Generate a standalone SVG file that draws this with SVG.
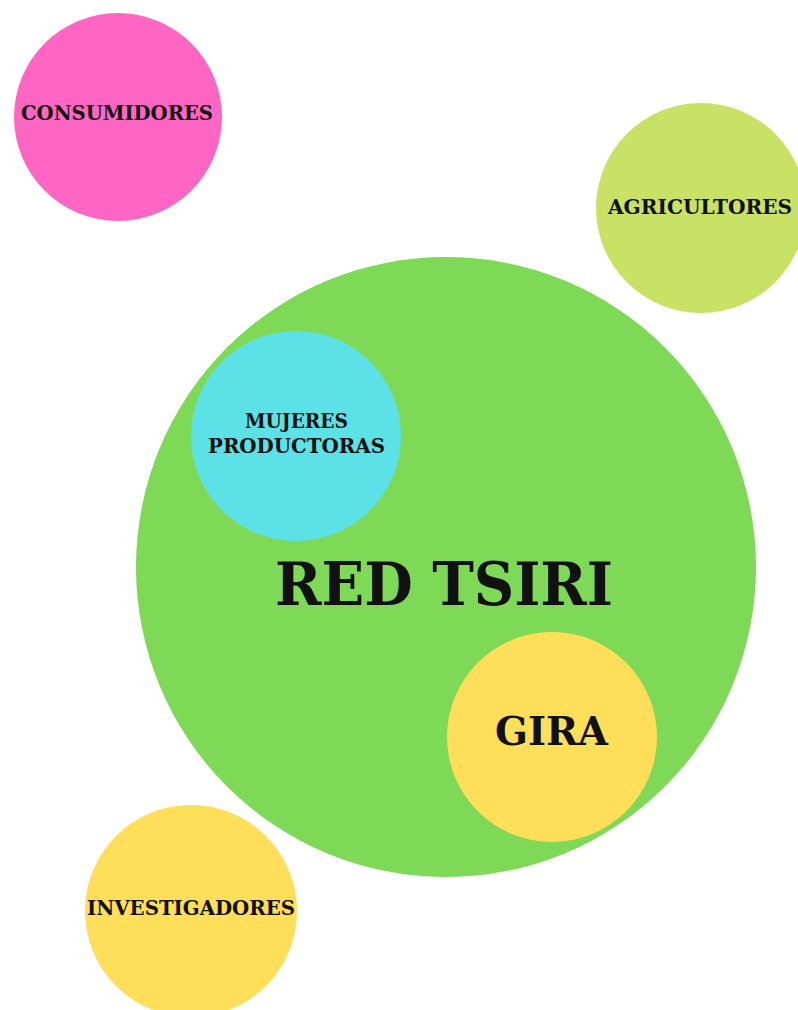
<svg xmlns="http://www.w3.org/2000/svg" width="798" height="1010" viewBox="0 0 798 1010">
<style>
.t{font-family:"DejaVu Serif","Liberation Serif",serif;font-weight:bold;fill:#111;text-anchor:middle}
</style>
<rect width="798" height="1010" fill="#ffffff"/>
<g id="consumidores">
<circle cx="118" cy="117" r="104" fill="#FF66C4"/>
<text class="t" x="117" y="120" font-size="20" textLength="192" lengthAdjust="spacingAndGlyphs">CONSUMIDORES</text>
</g>
<g id="agricultores">
<circle cx="701" cy="208" r="105" fill="#C9E265"/>
<text class="t" x="700" y="214" font-size="20" textLength="184" lengthAdjust="spacingAndGlyphs">AGRICULTORES</text>
</g>
<g id="red-tsiri">
<circle cx="446" cy="567" r="310" fill="#7ED957"/>
<text class="t" x="444" y="605" font-size="60" textLength="338" lengthAdjust="spacingAndGlyphs">RED TSIRI</text>
</g>
<g id="mujeres-productoras">
<circle cx="296" cy="436" r="105" fill="#5CE1E6"/>
<text class="t" x="296.5" y="428" font-size="21" textLength="103" lengthAdjust="spacingAndGlyphs">MUJERES</text>
<text class="t" x="296.5" y="453" font-size="21" textLength="177" lengthAdjust="spacingAndGlyphs">PRODUCTORAS</text>
</g>
<g id="gira">
<circle cx="552" cy="737" r="105" fill="#FFDE59"/>
<text class="t" x="551.5" y="745" font-size="40" textLength="113" lengthAdjust="spacingAndGlyphs">GIRA</text>
</g>
<g id="investigadores">
<circle cx="191" cy="911" r="106" fill="#FFDE59"/>
<text class="t" x="191" y="915" font-size="21" textLength="208" lengthAdjust="spacingAndGlyphs">INVESTIGADORES</text>
</g>
<g id="connectors"></g>
</svg>
